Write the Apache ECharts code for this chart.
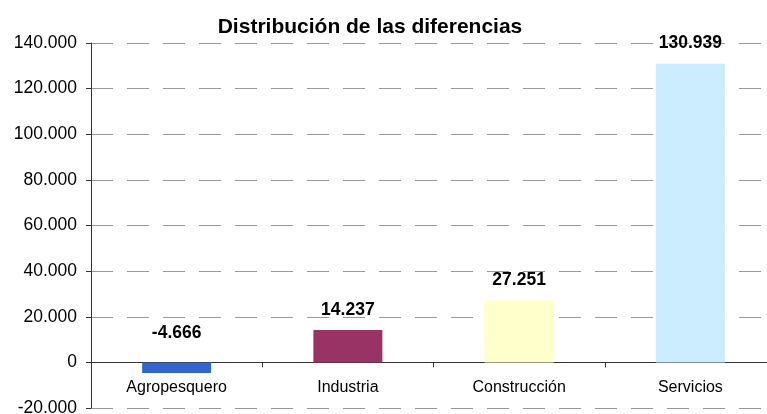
<!DOCTYPE html>
<html>
<head>
<meta charset="utf-8">
<script src="https://cdn.jsdelivr.net/npm/echarts@6/dist/echarts.min.js"></script>
<style>
    html, body { margin: 0; padding: 0; background: #fff; }
    #chart { width: 767px; height: 414px; }
</style>
</head>
<body>
<div id="chart"></div>
<script>
    var categories = ['Agropesquero', 'Industria', 'Construcción', 'Servicios'];
    var values = [-4666, 14237, 27251, 130939];
    var barColors = ['#3366CC', '#993366', '#FFFFCC', '#CCECFF'];

    // formato con punto de miles
    function fmt(v) {
        var s = Math.abs(v).toString().replace(/\B(?=(\d{3})+(?!\d))/g, '.');
        return (v < 0 ? '-' : '') + s;
    }

    var dom = document.getElementById('chart');
    var myChart = echarts.init(dom);
    var option = {
        animation: false,
        title: {
            text: 'Distribución de las diferencias',
            left: 365,
            textAlign: 'center',
            top: 12,
            textStyle: {
                fontFamily: 'Liberation Sans',
                fontSize: 21,
                fontWeight: 'bold',
                color: '#000'
            }
        },
        grid: {
            left: 91,
            width: 685,
            top: 43,
            bottom: 6,
            containLabel: false,
            outerBoundsMode: 'none'
        },
        xAxis: [
            {
                // línea en cero con marcas
                type: 'category',
                data: categories,
                axisLine: { onZero: true, lineStyle: { color: '#333', width: 1 } },
                axisTick: { show: true, length: 5, lineStyle: { color: '#333' } },
                axisLabel: { show: false }
            },
            {
                // etiquetas de categoría junto a la línea del cero
                type: 'category',
                data: categories,
                position: 'bottom',
                offset: -46,
                axisLine: { show: false, onZero: false },
                axisTick: { show: false },
                axisLabel: {
                    margin: 18,
                    fontFamily: 'Liberation Sans',
                    fontSize: 16,
                    color: '#000'
                }
            }
        ],
        yAxis: {
            type: 'value',
            min: -20000,
            max: 140000,
            interval: 20000,
            axisLine: { show: true, lineStyle: { color: '#333', width: 1 } },
            axisTick: { show: true, length: 5, lineStyle: { color: '#333' } },
            splitLine: {
                lineStyle: { color: '#999', type: [22, 14], width: 1 }
            },
            axisLabel: {
                margin: 14,
                fontFamily: 'Liberation Sans',
                fontSize: 17.5,
                color: '#000',
                formatter: function (v) { return fmt(v); }
            }
        },
        series: [
            {
                type: 'bar',
                barWidth: 69,
                data: values.map(function (v, i) {
                    var item = { value: v, itemStyle: { color: barColors[i] } };
                    if (v < 0) {
                        item.label = { position: 'insideBottom', offset: [0, -20] };
                    }
                    return item;
                }),
                label: {
                    show: true,
                    position: 'top',
                    distance: 11,
                    fontFamily: 'Liberation Sans',
                    fontSize: 17.5,
                    fontWeight: 'bold',
                    color: '#000',
                    formatter: function (p) { return fmt(p.value); }
                }
            }
        ]
    };
    if (option && typeof option === "object") {
        myChart.setOption(option, true);
    }
</script>
</body>
</html>
